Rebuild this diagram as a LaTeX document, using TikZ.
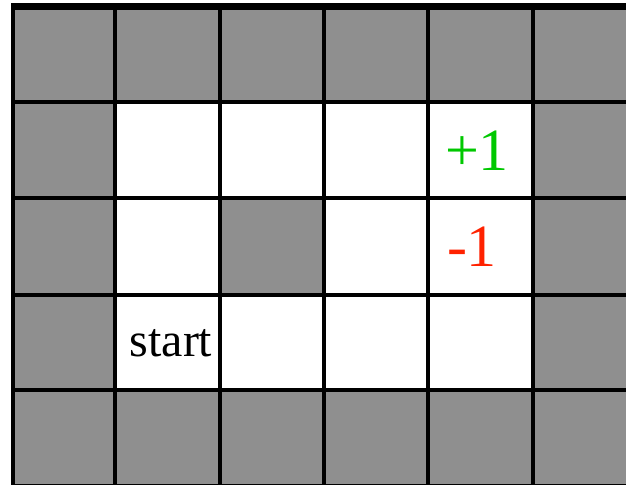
\documentclass[tikz,border=0pt]{standalone}
\usepackage{fontspec}
\setmainfont{Liberation Serif}
\definecolor{cellgray}{RGB}{143,143,143}
\definecolor{plusgreen}{RGB}{0,200,0}
\definecolor{minusred}{RGB}{255,34,0}
\tikzset{
  gridline/.style={line width=2pt, black},
  freecell/.style={fill=white},
  wallfill/.style={fill=cellgray},
  lbl/.style={anchor=base, inner sep=0pt}
}
\begin{document}
\begin{tikzpicture}[x=0.5pt,y=-0.5pt]
\useasboundingbox (0,0) rectangle (626,485);
\fill[white] (0,0) rectangle (626,485);
\begin{scope}
\clip (0,0) rectangle (626,485);
% walls
\path[wallfill] (13,6.5) rectangle (637,486);
% free cells
\path[freecell] (115,102) rectangle (533,198);
\path[freecell] (115,198) rectangle (220,295);
\path[freecell] (324,198) rectangle (533,295);
\path[freecell] (115,295) rectangle (533,390);
% grid lines
\foreach \x in {13,115,220,324,428,533} \draw[gridline] (\x,6.5) -- (\x,486);
\foreach \y in {102,198,295,390,486} \draw[gridline] (13,\y) -- (637,\y);
\draw[line width=3.5pt] (11,6.5) -- (637,6.5);
\end{scope}
\node[lbl, font=\fontsize{30}{36}\selectfont, text=plusgreen] (plus) at (477,171) {+1};
\node[lbl, font=\fontsize{30}{36}\selectfont, text=minusred] (minus) at (472,267) {-1};
\node[lbl, font=\fontsize{24}{29}\selectfont] (start) at (171,357) {start};
\end{tikzpicture}
\end{document}
